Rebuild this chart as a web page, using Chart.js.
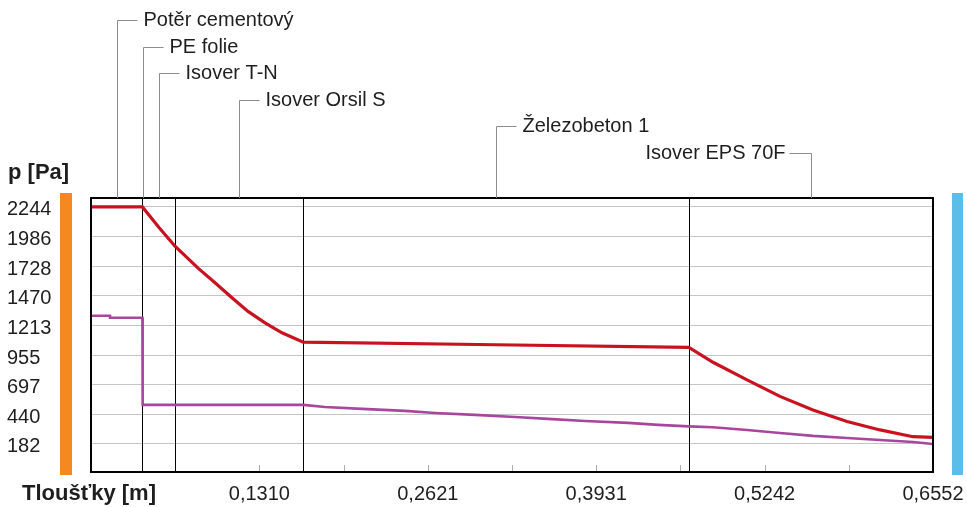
<!DOCTYPE html>
<html><head><meta charset="utf-8">
<script src="https://cdn.jsdelivr.net/npm/chart.js@4"></script>
<style>html,body{margin:0;padding:0;background:#fff;}#wrap{width:967px;height:507px;position:relative;}</style>
</head><body><div id="wrap"><canvas id="c"></canvas></div>
<script>
// ---- data ----
const layerNames = ['Potěr cementový', 'PE folie', 'Isover T-N', 'Isover Orsil S', 'Železobeton 1', 'Isover EPS 70F'];
const layerBounds = [0, 0.04, 0.0402, 0.0652, 0.1652, 0.4652, 0.6552];

// saturated vapour pressure (red)
const satX = [0, 0.04, 0.0402, 0.0529, 0.0652, 0.0833, 0.0965, 0.1097, 0.1222, 0.1354, 0.1486, 0.1652, 0.3150, 0.4652, 0.4840, 0.5105, 0.5361, 0.5618, 0.5883, 0.6140, 0.6396, 0.6552];
const satP = [2244, 2244, 2244, 2066, 1905, 1712, 1585, 1454, 1335, 1236, 1149, 1068, 1045, 1022, 893, 740, 596, 478, 378, 304, 245, 240];

// partial vapour pressure (purple)
const parX = [0, 0.0148, 0.0148, 0.04, 0.0402, 0.1652, 0.1821, 0.2109, 0.2443, 0.2677, 0.2988, 0.3299, 0.3556, 0.3844, 0.4179, 0.4412, 0.4652, 0.4840, 0.5105, 0.5361, 0.5618, 0.5883, 0.6140, 0.6396, 0.6552];
const parP = [1297, 1297, 1280, 1280, 522, 522, 504, 487, 470, 452, 435, 417, 400, 382, 365, 348, 335, 327, 304, 278, 252, 234, 217, 199, 182];

const yTickValues = [182, 440, 697, 955, 1213, 1470, 1728, 1986, 2244];
const xTickLabels = ['0,1310', '0,2621', '0,3931', '0,5242', '0,6552'];
const xMinorTicks = [0.0655, 0.1966, 0.3276, 0.4587, 0.5897];
const yTitle = 'p [Pa]';
const xTitle = 'Tloušťky [m]';

// ---- chart ----
const FONT = "'Liberation Sans', Arial, sans-serif";
const TEXT = '#1e1e1e';
const xMajor = xTickLabels.map(s => parseFloat(s.replace(',', '.')));

const overlay = {
  id: 'overlay',
  beforeDatasetsDraw(chart) {
    const { ctx, chartArea: a, scales: { x } } = chart;
    ctx.save();
    // tick marks at bottom
    ctx.strokeStyle = '#b0b0b0';
    ctx.lineWidth = 1;
    xMajor.concat(xMinorTicks).forEach(v => {
      const px = Math.round(x.getPixelForValue(v)) + 0.5;
      ctx.beginPath(); ctx.moveTo(px, a.bottom); ctx.lineTo(px, a.bottom - 7); ctx.stroke();
    });
    // layer boundaries
    ctx.strokeStyle = '#000';
    let last = -10;
    layerBounds.slice(1, -1).forEach(v => {
      const r = Math.round(x.getPixelForValue(v));
      if (r - last <= 1) { last = r; return; }
      last = r;
      const px = r + 0.5;
      ctx.beginPath(); ctx.moveTo(px, a.top); ctx.lineTo(px, a.bottom); ctx.stroke();
    });
    ctx.restore();
  },
  afterDatasetsDraw(chart) {
    const { ctx, chartArea: a, scales: { x } } = chart;
    ctx.save();
    // plot frame
    ctx.strokeStyle = '#000';
    ctx.lineWidth = 2;
    ctx.strokeRect(a.left, a.top, a.right - a.left, a.bottom - a.top);
    // side colour bars
    ctx.fillStyle = '#f5881f';
    ctx.fillRect(a.left - 31, a.top - 5, 12, a.bottom - a.top + 8);
    ctx.fillStyle = '#5cbde9';
    ctx.fillRect(a.right + 19, a.top - 5, 11, a.bottom - a.top + 8);
    // layer labels with leader lines
    ctx.font = '20px ' + FONT;
    ctx.textBaseline = 'middle';
    ctx.strokeStyle = '#8c8c8c';
    ctx.lineWidth = 1;
    layerNames.forEach((name, i) => {
      const mid = (layerBounds[i] + layerBounds[i + 1]) / 2;
      const px = Math.round(x.getPixelForValue(mid)) + 0.5;
      const ty = Math.round(20 + i * 26.6) + 0.5;
      const w = ctx.measureText(name).width;
      ctx.beginPath();
      ctx.moveTo(px, a.top);
      ctx.lineTo(px, ty);
      let tx;
      if (px + 26 + w > a.right) {
        ctx.lineTo(px - 22, ty);
        ctx.textAlign = 'right';
        tx = px - 26;
      } else {
        ctx.lineTo(px + 20, ty);
        ctx.textAlign = 'left';
        tx = px + 26;
      }
      ctx.stroke();
      ctx.fillStyle = TEXT;
      ctx.fillText(name, tx, ty);
    });
    // axis titles
    ctx.font = 'bold 22px ' + FONT;
    ctx.textAlign = 'left';
    ctx.fillStyle = TEXT;
    ctx.fillText(yTitle, 8, a.top - 25);
    ctx.fillText(xTitle, 22, a.bottom + 22);
    ctx.restore();
  }
};

new Chart(document.getElementById('c'), {
  type: 'line',
  data: {
    datasets: [
      {
        data: satX.map((v, i) => ({ x: v, y: satP[i] })),
        borderColor: '#c8121f',
        borderWidth: 3.2,
        pointRadius: 0,
        tension: 0,
        fill: false
      },
      {
        data: parX.map((v, i) => ({ x: v, y: parP[i] })),
        borderColor: '#a8469e',
        borderWidth: 2.6,
        pointRadius: 0,
        tension: 0,
        fill: false
      }
    ]
  },
  options: {
    responsive: true,
    maintainAspectRatio: false,
    animation: false,
    layout: { autoPadding: false, padding: { left: 7, top: 198, right: 34, bottom: 0 } },
    plugins: { legend: { display: false }, tooltip: { enabled: false } },
    scales: {
      x: {
        type: 'linear',
        min: 0,
        max: 0.6552,
        afterBuildTicks: s => { s.ticks = xMajor.map(v => ({ value: v })); },
        afterFit: s => { s.height = 35; s.paddingLeft = 0; s.paddingRight = 0; },
        grid: { display: false, drawTicks: false },
        border: { display: false },
        ticks: {
          autoSkip: false,
          maxRotation: 0,
          padding: 10,
          color: TEXT,
          font: { family: FONT, size: 20 },
          callback: (v) => { const k = xMajor.indexOf(v); return k >= 0 ? xTickLabels[k] : ''; }
        }
      },
      y: {
        type: 'linear',
        min: -62,
        max: 2322,
        afterBuildTicks: s => { s.ticks = yTickValues.map(v => ({ value: v })); },
        afterFit: s => { s.width = 84; s.paddingTop = 0; s.paddingBottom = 0; },
        grid: { color: '#c4c4c4', lineWidth: 1, drawTicks: false },
        border: { display: false },
        ticks: {
          autoSkip: false,
          crossAlign: 'far',
          padding: 0,
          labelOffset: 3,
          color: TEXT,
          font: { family: FONT, size: 20 },
          callback: v => String(v)
        }
      }
    }
  },
  plugins: [overlay]
});
</script>
</body></html>
